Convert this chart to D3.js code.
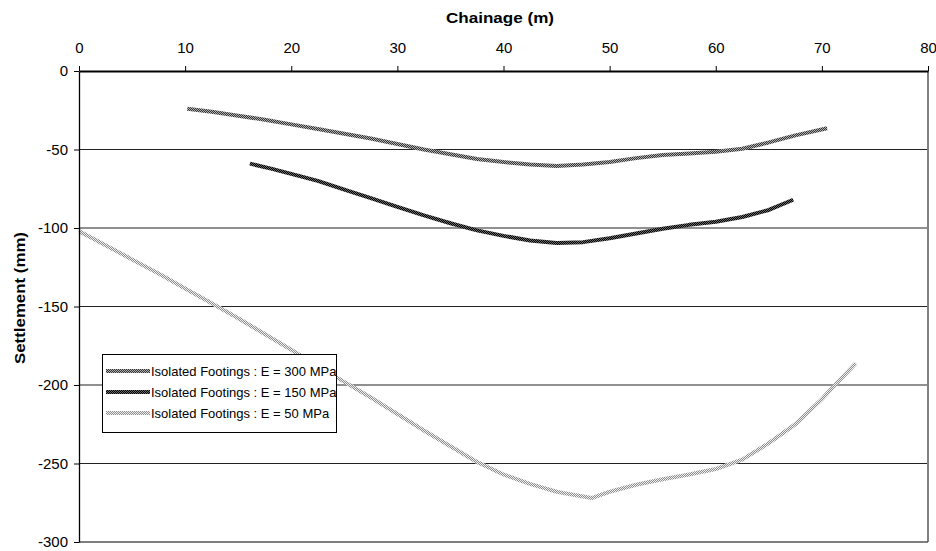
<!DOCTYPE html>
<html>
<head>
<meta charset="utf-8">
<script src="https://cdn.jsdelivr.net/npm/d3@7/dist/d3.min.js"></script>
<style>
  html, body { margin: 0; padding: 0; background: #fff; }
  svg { display: block; font-family: "Liberation Sans", Arial, sans-serif; }
</style>
</head>
<body>
<svg id="chart" width="936" height="551"></svg>
<script>
// ---- Data ----
const xTicks = [0, 10, 20, 30, 40, 50, 60, 70, 80];
const yTicks = [0, -50, -100, -150, -200, -250, -300];
const seriesNames = [
  "Isolated Footings : E = 300 MPa",
  "Isolated Footings : E = 150 MPa",
  "Isolated Footings : E = 50 MPa"
];
const chainage300 = [10.2, 12.5, 15, 17.5, 20, 22.5, 25, 27.5, 30, 32.5, 35, 37.5, 40, 42.5, 45, 47.5, 50, 52.5, 55, 57.5, 60, 62.5, 65, 67.5, 70.5];
const settle300   = [-24, -26, -28.5, -31, -34, -37, -40, -43, -46.5, -50, -53, -56, -58, -59.5, -60.5, -59.5, -58, -55.5, -53.5, -52.5, -51.5, -49.5, -45.5, -41, -36.5];
const chainage150 = [16.1, 18, 20, 22.5, 25, 27.5, 30, 32.5, 35, 37.5, 40, 42.5, 45, 47.5, 50, 52.5, 55, 57.5, 60, 62.5, 65, 67.3];
const settle150   = [-59, -62, -65.5, -70, -75.5, -81, -86.5, -92, -97, -101.5, -105, -108, -109.5, -109, -106.5, -103.5, -100.5, -98, -96, -93, -88.5, -82];
const chainage50  = [0, 2.5, 5, 7.5, 10, 12.5, 15, 17.5, 20, 22.5, 25, 27.5, 30, 32.5, 35, 37.5, 40, 42.5, 45, 48.3, 50, 52.5, 55, 57.5, 60, 62.5, 65, 67.5, 70, 71.1, 73.2];
const settle50    = [-102, -111, -120, -129, -138.5, -148, -157.5, -167.5, -177.5, -188, -198, -208, -218.5, -229, -239, -249, -257, -263, -268, -272, -268, -263.5, -260, -257, -253.5, -247.5, -237, -225, -209, -201, -186];

const svg = d3.select("#chart");
const x = d3.scaleLinear().domain([0, 80]).range([79, 928]);
const y = d3.scaleLinear().domain([0, -300]).range([71, 542]);

// patterns for textured lines
const defs = svg.append("defs");
function checker(id, a, b) {
  const p = defs.append("pattern").attr("id", id).attr("patternUnits", "userSpaceOnUse")
    .attr("width", 2).attr("height", 2);
  p.append("rect").attr("width", 2).attr("height", 2).attr("fill", a);
  p.append("rect").attr("width", 1).attr("height", 1).attr("fill", b);
  p.append("rect").attr("x", 1).attr("y", 1).attr("width", 1).attr("height", 1).attr("fill", b);
}
checker("p300", "#333333", "#b0b0b0");
checker("p150", "#000000", "#6a6a6a");
checker("p50", "#8c8c8c", "#f0f0f0");
const strokes = ["url(#p300)", "url(#p150)", "url(#p50)"];

// gridlines
svg.append("g").selectAll("line").data(yTicks.filter(d => d !== 0 && d !== -300)).join("line")
  .attr("x1", x(0)).attr("x2", x(80))
  .attr("y1", d => y(d)).attr("y2", d => y(d))
  .attr("stroke", "#222").attr("stroke-width", 1.2);

// right and bottom frame
svg.append("line").attr("x1", x(80)).attr("x2", x(80)).attr("y1", y(0)).attr("y2", y(-300))
  .attr("stroke", "#808080").attr("stroke-width", 2);
svg.append("line").attr("x1", x(0)).attr("x2", x(80)).attr("y1", y(-300)).attr("y2", y(-300))
  .attr("stroke", "#555").attr("stroke-width", 1.5);

// series
const series = [
  { xs: chainage300, ys: settle300 },
  { xs: chainage150, ys: settle150 },
  { xs: chainage50, ys: settle50 }
];
const line = d3.line().x(d => x(d[0])).y(d => y(d[1]));
series.forEach((s, i) => {
  const pts = s.xs.map((v, k) => [v, s.ys[k]]);
  svg.append("path").datum(pts).attr("d", line)
    .attr("fill", "none").attr("stroke", strokes[i]).attr("stroke-width", 4)
    .attr("stroke-linejoin", "round");
});

// top axis
const gx = svg.append("g").attr("transform", `translate(0,${y(0)})`)
  .call(d3.axisTop(x).tickValues(xTicks).tickFormat(d => String(d)).tickSize(5).tickPadding(13).tickSizeOuter(0));
gx.select(".domain").attr("stroke", "#000").attr("stroke-width", 2);
gx.selectAll(".tick line").attr("stroke", "#000");
gx.selectAll("text").attr("font-size", 15).attr("fill", "#000")
  .attr("font-family", "'Liberation Sans', Arial, sans-serif");

// left axis
const gy = svg.append("g").attr("transform", `translate(${x(0)},0)`)
  .call(d3.axisLeft(y).tickValues(yTicks).tickFormat(d => String(d)).tickSize(5).tickPadding(6).tickSizeOuter(0));
gy.select(".domain").attr("stroke", "#000").attr("stroke-width", 1.3);
gy.selectAll(".tick line").attr("stroke", "#000");
gy.selectAll("text").attr("font-size", 15).attr("fill", "#000")
  .attr("font-family", "'Liberation Sans', Arial, sans-serif");

// titles
svg.append("text").attr("x", 500).attr("y", 23).attr("text-anchor", "middle")
  .attr("font-size", 15).attr("font-weight", "bold")
  .attr("textLength", 108).attr("lengthAdjust", "spacingAndGlyphs").text("Chainage (m)");
svg.append("text").attr("transform", "translate(25,298) rotate(-90)").attr("text-anchor", "middle")
  .attr("font-size", 15).attr("font-weight", "bold")
  .attr("textLength", 132).attr("lengthAdjust", "spacingAndGlyphs").text("Settlement (mm)");

// legend
const lg = svg.append("g");
lg.append("rect").attr("x", 102.5).attr("y", 354.5).attr("width", 234).attr("height", 78)
  .attr("fill", "#fff").attr("stroke", "#000").attr("stroke-width", 1);
const rowY = [371, 392, 413];
seriesNames.forEach((n, i) => {
  lg.append("line").attr("x1", 106).attr("x2", 150).attr("y1", rowY[i]).attr("y2", rowY[i])
    .attr("stroke", strokes[i]).attr("stroke-width", 4);
  lg.append("text").attr("x", 151).attr("y", rowY[i]).attr("dy", "0.35em")
    .attr("font-size", 13).text(n);
});
</script>
</body>
</html>
